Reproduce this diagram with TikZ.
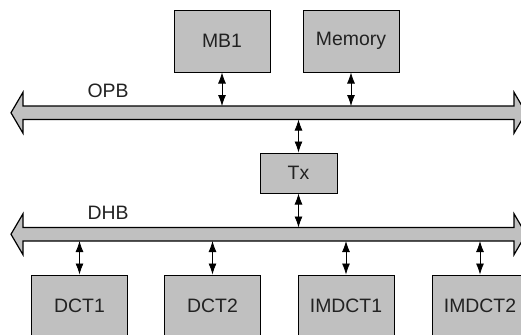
\documentclass[tikz,border=0pt]{standalone}
\usepackage{fontspec}
\setmainfont{Liberation Sans}
\usetikzlibrary{arrows.meta}
\definecolor{boxgray}{HTML}{C0C0C0}
\definecolor{inkgray}{HTML}{222222}
\tikzset{
  unit/.style={draw=black, fill=boxgray, line width=0.5pt, text=inkgray,
    minimum width=48pt, minimum height=31pt, inner sep=0pt},
  busline/.style={draw=black, fill=boxgray, line width=0.6pt, line join=miter},
  link/.style={{Latex[length=5.5pt,width=4pt]}-{Latex[length=5.5pt,width=4pt]}, line width=0.4pt}
}
% bus drawn as a two-headed arrow; #1 = top of shaft
\newcommand{\busarrow}[2]{%
  \filldraw[busline] (11,#1+6.75) -- (23,#1-13.75) -- (23,#1) -- (514,#1) -- (514,#1-13.75)
    -- (526,#1+6.75) -- (514,#1+27.25) -- (514,#1+13.5) -- (23,#1+13.5) -- (23,#1+27.25) -- cycle;
  \coordinate (#2top) at (268.5,#1);
  \coordinate (#2bot) at (268.5,#1+13.5);
}

\begin{document}
\begin{tikzpicture}[x=0.5pt,y=-0.5pt,font=\fontsize{9.7}{11.6}\selectfont]
\useasboundingbox (0,0) rectangle (521,334);
\busarrow{106}{opb}
\busarrow{227.5}{dhb}
\node[text=inkgray] (opblabel) at (108,91) {OPB};
\node[text=inkgray] (dhblabel) at (108,213) {DHB};

\node[unit] (mb1) at (222,41) {MB1};
\node[unit] (memory) at (351,41) {Memory};
\node[unit, minimum width=38.5pt, minimum height=20pt] (tx) at (298.5,173) {Tx};
\node[unit] (dct1) at (79.5,306) {DCT1};
\node[unit] (dct2) at (212.5,306) {DCT2};
\node[unit] (imdct1) at (346,306) {IMDCT1};
\node[unit] (imdct2) at (480,306) {IMDCT2};

\draw[link] (mb1.south) -- (mb1.south |- opbtop);
\draw[link] (memory.south) -- (memory.south |- opbtop);
\draw[link] (tx.north) -- (tx.north |- opbbot);
\draw[link] (tx.south) -- (tx.south |- dhbtop);
\foreach \u in {dct1,dct2,imdct1,imdct2}
  \draw[link] (\u.north) -- (\u.north |- dhbbot);
\end{tikzpicture}
\end{document}
